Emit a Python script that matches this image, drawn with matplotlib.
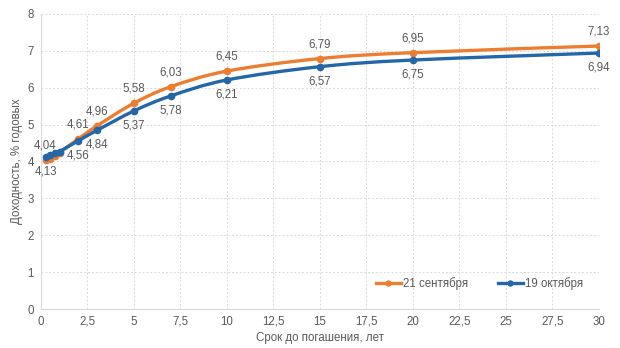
import matplotlib.pyplot as plt
from matplotlib.path import Path
from matplotlib.patches import PathPatch
from matplotlib.lines import Line2D

plt.rcParams['font.family'] = ['Liberation Sans', 'DejaVu Sans']

# Данные
years = [0.25, 0.5, 0.75, 1, 2, 3, 5, 7, 10, 15, 20, 30]
sep21 = [4.04, 4.08, 4.15, 4.24, 4.61, 4.96, 5.58, 6.03, 6.45, 6.79, 6.95, 7.13]
oct19 = [4.13, 4.17, 4.22, 4.27, 4.56, 4.84, 5.37, 5.78, 6.21, 6.57, 6.75, 6.94]
label_idx = [0, 4, 5, 6, 7, 8, 9, 10, 11]

orange = '#ED7D31'
blue = '#2467A8'
txt = '#595959'


def smooth_path(xs, ys):
    # сглаженная линия как в Excel (кривые Безье через точки)
    pts = list(zip(xs, ys))
    verts = [pts[0]]
    codes = [Path.MOVETO]
    n = len(pts)
    for i in range(n - 1):
        p0 = pts[i - 1] if i > 0 else pts[i]
        p1, p2 = pts[i], pts[i + 1]
        p3 = pts[i + 2] if i + 2 < n else pts[i + 1]
        c1 = (p1[0] + (p2[0] - p0[0]) / 6, p1[1] + (p2[1] - p0[1]) / 6)
        c2 = (p2[0] - (p3[0] - p1[0]) / 6, p2[1] - (p3[1] - p1[1]) / 6)
        verts += [c1, c2, p2]
        codes += [Path.CURVE4] * 3
    return Path(verts, codes)


fig = plt.figure(figsize=(6.2, 3.48), dpi=100)
ax = fig.add_axes([0.066, 0.112, 0.9, 0.848])

for ys, col, z in [(sep21, orange, 3), (oct19, blue, 4)]:
    ax.add_patch(PathPatch(smooth_path(years, ys), fill=False, edgecolor=col,
                           lw=2.4, capstyle='round', joinstyle='round', zorder=z))
    ax.plot(years, ys, ls='none', marker='o', ms=4.5, color=col, zorder=z)

for i in label_idx:
    ax.annotate(f'{sep21[i]:.2f}'.replace('.', ','), (years[i], sep21[i]),
                xytext=(0, 6), textcoords='offset points', ha='center', va='bottom',
                fontsize=8.3, color=txt)
    ax.annotate(f'{oct19[i]:.2f}'.replace('.', ','), (years[i], oct19[i]),
                xytext=(0, -6), textcoords='offset points', ha='center', va='top',
                fontsize=8.3, color=txt)

ax.set_xlim(0, 30)
ax.set_ylim(0, 8)
xt = [0, 2.5, 5, 7.5, 10, 12.5, 15, 17.5, 20, 22.5, 25, 27.5, 30]
ax.set_xticks(xt)
ax.set_xticklabels([f'{v:g}'.replace('.', ',') for v in xt])
ax.set_yticks(range(9))
ax.tick_params(colors=txt, labelsize=8.3, length=0, pad=5)
ax.grid(True, color='#d9d9d9', ls=(0, (2, 2)), lw=0.7)
for s in ['top', 'right']:
    ax.spines[s].set_visible(False)
for s in ['left', 'bottom']:
    ax.spines[s].set_color('#d9d9d9')

ax.set_xlabel('Срок до погашения, лет', color=txt, fontsize=8.3, labelpad=3)
ax.set_ylabel('Доходность, % годовых', color=txt, fontsize=8.3, labelpad=3)

handles = [Line2D([], [], color=orange, lw=2.4, marker='o', ms=3.6),
           Line2D([], [], color=blue, lw=2.4, marker='o', ms=3.6)]
ax.legend(handles, ['21 сентября', '19 октября'], loc='lower right',
          bbox_to_anchor=(0.99, 0.03), ncol=2, frameon=False,
          fontsize=8.3, labelcolor=txt, handlelength=2.2, handletextpad=0.15,
          columnspacing=2.6)

fig.savefig('out.png', dpi=100)
